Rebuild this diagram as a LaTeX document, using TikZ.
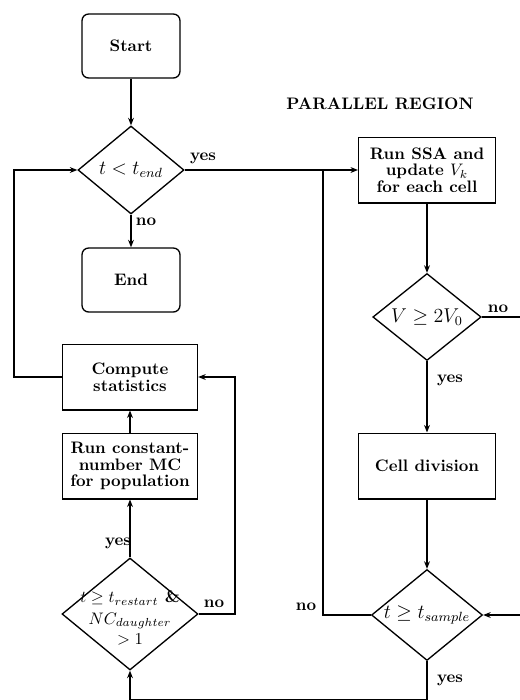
\documentclass[tikz,border=0pt]{standalone}
\usetikzlibrary{shapes.geometric,arrows.meta}
\begin{document}
\begin{tikzpicture}[x=0.6pt,y=-0.6pt,
  every node/.style={font=\bfseries},
  flow/.style={line width=0.8pt},
  arr/.style={flow,-{Stealth[length=4.5pt,width=3.5pt]}},
  term/.style={draw,line width=0.8pt,rounded corners=4pt,minimum width=58.8pt,minimum height=38.4pt,inner sep=0pt},
  proc/.style={draw,line width=0.8pt,minimum width=82pt,minimum height=39.4pt,inner sep=0pt,align=center},
  dec/.style={draw,line width=0.8pt,diamond,inner sep=0pt},
  cond/.style={font=\bfseries\large,align=center,inner sep=0pt},
  lbl/.style={inner sep=0pt,font=\bfseries}]
\useasboundingbox (0,0) rectangle (520,700);

% main loop (left column)
\node[term] (start) at (131,46) {Start};
\node[dec,minimum width=63.6pt,minimum height=52.8pt] (d1) at (131,170) {};
\node[cond] (c1) at (d1) {$t < t_{end}$};
\node[term] (stop) at (131,280) {End};
\node[proc,minimum width=81pt] (stats) at (130,377) {Compute\\[-2pt]statistics};
\node[proc,minimum width=81pt] (mc) at (130,466) {Run constant-\\[-2pt]number MC\\[-2pt]for population};
\node[dec,minimum width=81.6pt,minimum height=67.2pt] (d3) at (130,614) {};
\node[cond,font=\bfseries] (c3) at (130,618) {$t \geq t_{restart}$ \&\\[1pt]$NC_{daughter}$\\[0pt]$>1$};

% parallel region (right column)
\node (title) at (380,104) {PARALLEL REGION};
\node[proc] (ssa) at (427,170) {Run SSA and\\[-2pt]update $V_k$\\[-2pt]for each cell};
\node[dec,minimum width=65pt,minimum height=52.2pt] (d2) at (427,317) {};
\node[cond] (c2) at (d2) {$V \geq 2V_0$};
\node[proc] (div) at (427,466) {Cell division};
\node[dec,minimum width=66.6pt,minimum height=54.6pt] (d4) at (427,615) {};
\node[cond] (c4) at (d4) {$t \geq t_{sample}$};

% bend points and free ends
\coordinate (lt) at (14,170);
\coordinate (lb) at (14,377);
\coordinate (rn) at (235,614);
\coordinate (rs) at (235,377);
\coordinate (jn) at (323,170);
\coordinate (js) at (323,615);
\coordinate (e2) at (520,317);
\coordinate (e4) at (520,615);
\coordinate (bl) at (130,700);
\coordinate (br) at (427,700);

% connectors
\draw[arr] (start) -- (d1);
\draw[arr] (d1.south) -- (stop);
\draw[arr] (d1.east) -- (ssa.west);
\draw[arr] (stats.west) -- (lb) -- (lt) -- (d1.west);
\draw[arr] (mc.north) -- (stats.south);
\draw[arr] (d3.north) -- (mc.south);
\draw[arr] (d3.east) -- (rn) -- (rs) -- (stats.east);
\draw[arr] (ssa.south) -- (d2.north);
\draw[arr] (d2.south) -- (div.north);
\draw[flow] (d2.east) -- (e2);
\draw[arr] (div.south) -- (d4.north);
\draw[arr] (e4) -- (d4.east);
\draw[flow] (d4.west) -- (js) -- (jn);
\draw[arr] (d4.south) -- (br) -- (bl) -- (d3.south);

% branch labels
\node[lbl] (y1) at (203,158) {yes};
\node[lbl] (n1) at (146,222) {no};
\node[lbl] (n2) at (498,309) {no};
\node[lbl] (y2) at (450,380) {yes};
\node[lbl] (y3) at (118,543) {yes};
\node[lbl] (n3) at (214,604) {no};
\node[lbl] (n4) at (306,607) {no};
\node[lbl] (y4) at (450,680) {yes};
\end{tikzpicture}
\end{document}
